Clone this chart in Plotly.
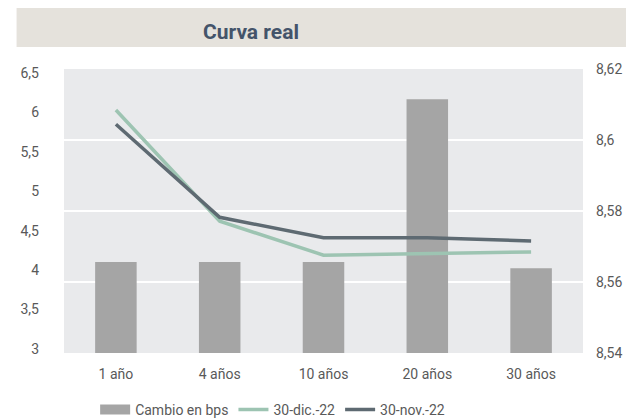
import plotly.graph_objects as go

categories = ["1 año", "4 años", "10 años", "20 años", "30 años"]
cambio_bps = [8.5656, 8.5656, 8.5656, 8.6115, 8.5639]
dic_22 = [6.03, 4.62, 4.19, 4.21, 4.23]
nov_22 = [5.85, 4.67, 4.41, 4.41, 4.37]
left_ticks = [3, 3.5, 4, 4.5, 5, 5.5, 6, 6.5]
right_ticks = [8.54, 8.56, 8.58, 8.60, 8.62]

FONT = "Roboto"
TXT = "#595959"
BAR = "#A5A5A5"

fig = go.Figure()
fig.add_trace(go.Bar(x=categories, y=cambio_bps, name="Cambio en bps", showlegend=False,
                     marker=dict(color=BAR, line=dict(width=0)), yaxis="y"))
# legend entry for the bars (wide rectangle swatch)
fig.add_trace(go.Scatter(x=[None], y=[None], name="Cambio en bps", mode="lines",
                         line=dict(color=BAR, width=10), yaxis="y"))
fig.add_trace(go.Scatter(x=categories, y=dic_22, name="30-dic.-22", mode="lines",
                         line=dict(color="#9DC4B2", width=3.5), yaxis="y2"))
fig.add_trace(go.Scatter(x=categories, y=nov_22, name="30-nov.-22", mode="lines",
                         line=dict(color="#5E6A72", width=3.5), yaxis="y2"))

fig.update_layout(
    width=626, height=411,
    margin=dict(l=52, r=49, t=61, b=66),
    paper_bgcolor="white",
    plot_bgcolor="#E9EAEC",
    separators=",.",
    font=dict(family=FONT, size=14, color=TXT),
    bargap=0.6,
    showlegend=True,
    legend=dict(orientation="h", xref="paper", x=0.402, xanchor="center",
                yref="container", y=0.022, yanchor="middle",
                font=dict(size=14, color=TXT), itemwidth=30, tracegroupgap=0),
    xaxis=dict(showgrid=False, zeroline=False, showline=False, ticks="",
               ticklabelstandoff=11, tickfont=dict(size=14, color=TXT)),
    yaxis=dict(side="right", range=[8.54, 8.62], tickvals=right_ticks,
               ticktext=[f"{v:.2f}".replace(".", ",").rstrip("0") for v in right_ticks],
               showgrid=True, gridcolor="white", gridwidth=2, zeroline=False,
               showline=False, ticks="", ticklabelstandoff=12,
               tickfont=dict(size=14, color=TXT)),
    yaxis2=dict(side="left", overlaying="y", range=[2.95, 6.55], tickvals=left_ticks,
                showgrid=False, zeroline=False, showline=False, ticks="",
                ticklabelstandoff=24, tickfont=dict(size=14, color=TXT)),
    shapes=[dict(type="rect", xref="paper", yref="paper",
                 x0=-0.0914, x1=1.1, y0=1.0775, y1=1.218,
                 fillcolor="#E5E2DC", line=dict(width=0), layer="below")],
    annotations=[dict(text="<b>Curva real</b>", xref="paper", yref="paper",
                      x=0.36, y=1.13, xanchor="center", yanchor="middle",
                      showarrow=False, font=dict(family=FONT, size=21, color="#44546A"))],
)

fig.write_html("out.html")
